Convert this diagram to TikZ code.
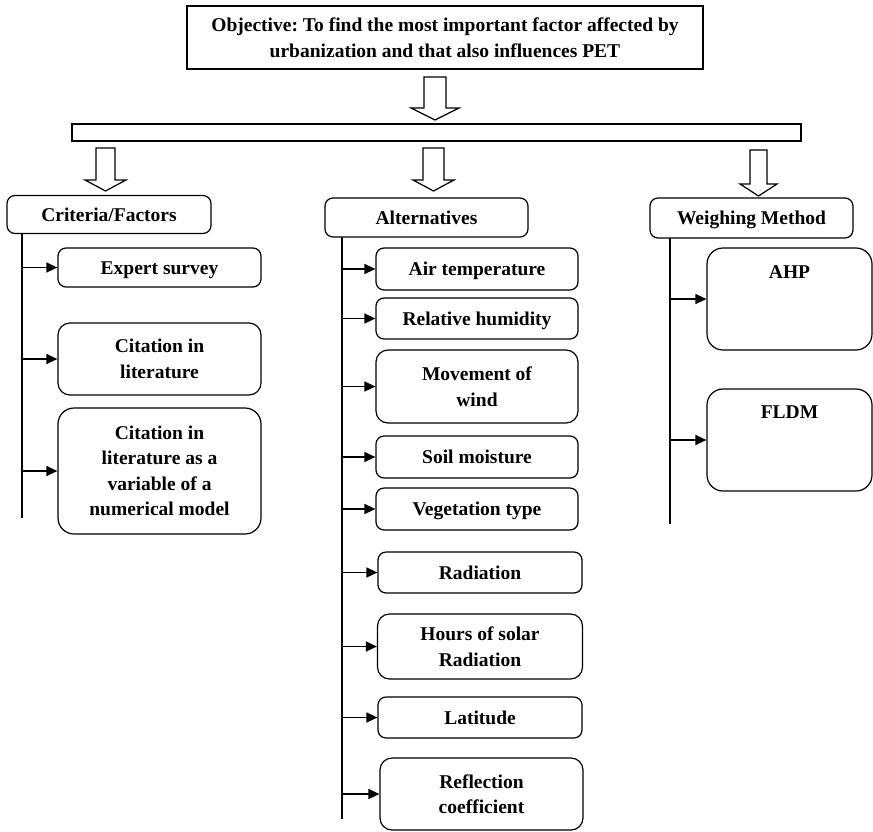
\documentclass[tikz,border=0pt]{standalone}
\usepackage{fontspec}
\setmainfont{Liberation Serif}
\usetikzlibrary{arrows.meta,calc}
% hollow block arrow pointing down: centre x, shaft half width, head half width, top, head start, tip
\newcommand\hollowdown[6]{%
  \draw[blockarr] ({#1-#2},#4) -- ({#1+#2},#4) -- ({#1+#2},#5) -- ({#1+#3},#5)
    -- (#1,#6) -- ({#1-#3},#5) -- ({#1-#2},#5) -- cycle;}
\begin{document}
\frenchspacing
\begin{tikzpicture}[x=1pt,y=-1pt,
  font=\fontsize{19.5}{25.5}\selectfont\bfseries,
  box/.style={draw, line width=1.2pt, rounded corners=8pt, align=center, inner sep=0pt},
  one/.style={box, text height=13.5pt, text depth=0pt},
  bigbox/.style={box, rounded corners=16pt},
  plain/.style={draw, line width=1.3pt, align=center, inner sep=0pt},
  blockarr/.style={draw, line width=1.2pt, fill=white},
  stem/.style={line width=1.2pt},
  arr/.style={line width=1.3pt, -{Triangle[length=11pt,width=10pt]}},
  lbl/.style={inner sep=0pt}]
\useasboundingbox (0,0) rectangle (873,831);

% objective and distribution bar
\node[plain, minimum width=516pt, minimum height=63pt] (obj) at (445,37.5)
  {Objective: To find the most important factor affected by\\urbanization and that also influences PET};
\node[plain, minimum width=729pt, minimum height=17pt] (bar) at (436.5,132.5) {};

\hollowdown{435}{11}{24}{77}{108}{120}
\hollowdown{105.5}{9.5}{20.5}{148}{180}{191}
\hollowdown{433.5}{10.5}{20.5}{148}{180}{191}
\hollowdown{758.5}{8.5}{18.5}{150}{184}{196}

% column headers
\node[one, minimum width=204pt, minimum height=38pt] (crit) at (109,214.5) {Criteria/Factors};
\node[one, minimum width=203pt, minimum height=39pt] (alt) at (426.5,217.5) {Alternatives};
\node[one, minimum width=203pt, minimum height=40pt] (wm) at (751.5,218) {Weighing Method};

% criteria column
\node[one, minimum width=203pt, minimum height=39pt] (es) at (159.5,267.5) {Expert survey};
\node[box, rounded corners=12pt, minimum width=203pt, minimum height=72pt] (cil) at (159.5,359) {Citation in\\literature};
\node[bigbox, minimum width=203pt, minimum height=126pt] (cnm) at (159.5,471)
  {Citation in\\literature as a\\variable of a\\numerical model};

% alternatives column
\node[one, minimum width=202pt, minimum height=42pt] (air) at (477,269) {Air temperature};
\node[one, minimum width=202pt, minimum height=41pt] (rh) at (477,318.5) {Relative humidity};
\node[box, rounded corners=12pt, minimum width=202pt, minimum height=73pt] (mw) at (477,386.5) {Movement of\\wind};
\node[one, minimum width=202pt, minimum height=42pt] (sm) at (477,457) {Soil moisture};
\node[one, minimum width=202pt, minimum height=42pt] (vt) at (477,509) {Vegetation type};
\node[one, minimum width=204pt, minimum height=41pt] (rad) at (480,572.5) {Radiation};
\node[box, rounded corners=12pt, minimum width=205pt, minimum height=65pt] (hsr) at (480,646.5) {Hours of solar\\Radiation};
\node[one, minimum width=204pt, minimum height=41pt] (lat) at (480,717.5) {Latitude};
\node[box, rounded corners=12pt, minimum width=203pt, minimum height=72pt] (rc) at (481.5,794) {Reflection\\coefficient};

% weighing column
\node[bigbox, minimum width=165pt, minimum height=102pt] (ahp) at (789.5,299) {};
\node[lbl] (ahpt) at ($(ahp.north)+(0,25)$) {AHP};
\node[bigbox, minimum width=165pt, minimum height=102pt] (fldm) at (789.5,440) {};
\node[lbl] (fldmt) at ($(fldm.north)+(0,24)$) {FLDM};

% stems below the headers
\coordinate (ct) at (22,233);   \coordinate (cb) at (22,518);
\coordinate (at) at (342,237);  \coordinate (ab) at (342,819);
\coordinate (wt) at (670,238);  \coordinate (wb) at (670,524);
\draw[stem] (ct) -- (cb);
\draw[stem] (at) -- (ab);
\draw[stem] (wt) -- (wb);

\foreach \n in {es,cil,cnm} \draw[arr] (ct |- \n.west) -- (\n.west);
\foreach \n in {air,rh,mw,sm,vt,rad,hsr,lat,rc} \draw[arr] (at |- \n.west) -- (\n.west);
\foreach \n in {ahp,fldm} \draw[arr] (wt |- \n.west) -- (\n.west);
\end{tikzpicture}
\end{document}
